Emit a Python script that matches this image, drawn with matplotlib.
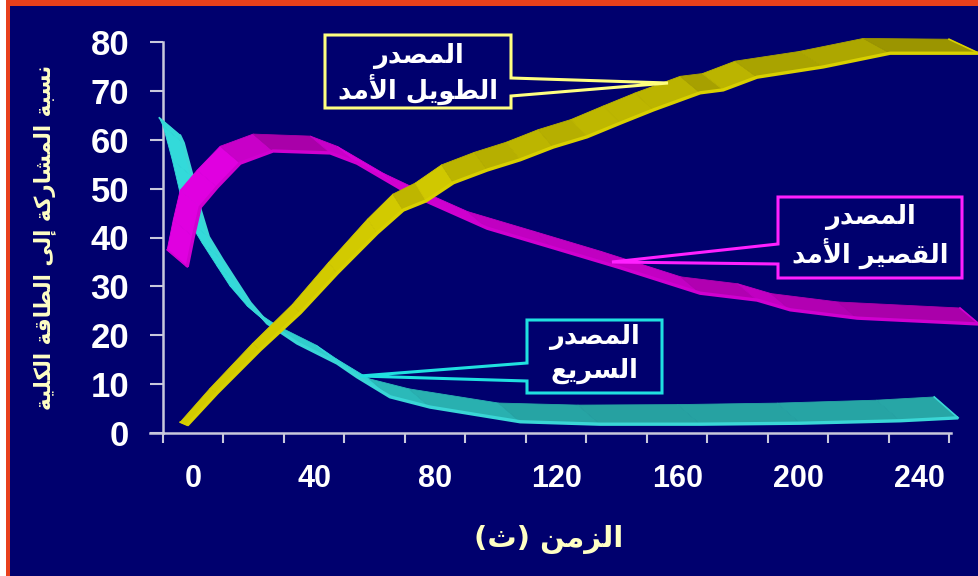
import numpy as np
import matplotlib
matplotlib.use("Agg")
import matplotlib.pyplot as plt
from matplotlib.collections import PolyCollection
from matplotlib.patches import Rectangle, Polygon
from matplotlib.lines import Line2D
import matplotlib.colors as mcolors

# ---------------- data (front edge of each ribbon) ----------------
fast_t = [-4.6, -3.3, -0.3, 2.3, 5.0, 9.6, 14.5, 18.8, 24.5, 34.4, 47.6, 54.2, 65.1,
          78.3, 108.1, 134.5, 167.6, 200.7, 233.7, 252.9]
fast_y = [61.0, 59.3, 52.4, 45.6, 40.1, 35.4, 30.7, 26.6, 22.5, 18.4, 14.3, 11.5, 7.4,
          5.3, 2.3, 1.8, 1.8, 2.0, 2.5, 3.1]

short_t = [-2.0, 0.0, 2.3, 7.9, 15.5, 26.4, 45.3, 54.2, 69.4, 78.3, 97.2, 119.0, 141.2,
           167.6, 186.4, 197.4, 219.5, 259.8]
short_y = [34.0, 40.1, 46.2, 50.3, 55.2, 57.7, 57.3, 55.2, 49.7, 47.1, 41.9, 37.9, 33.8,
           28.6, 27.2, 25.2, 23.5, 22.3]

long_t = [-2.0, 7.9, 22.1, 35.4, 47.6, 60.8, 69.4, 77.0, 86.0, 97.2, 108.1, 119.0, 130.2,
          141.2, 152.1, 167.6, 175.2, 186.4, 208.3, 230.4, 259.8]
long_y = [1.6, 8.2, 17.0, 24.6, 32.7, 40.9, 45.6, 47.5, 51.2, 53.8, 55.9, 58.5, 60.6,
          63.4, 66.1, 69.6, 70.2, 72.8, 74.9, 77.7, 77.7]

x_tick_labels = [0, 40, 80, 120, 160, 200, 240]
y_ticks = [0, 10, 20, 30, 40, 50, 60, 70, 80]

word_source = "المصدر"
label_long = "الطويل الأمد"
label_short = "القصير الأمد"
label_fast = "السريع"
y_title = "نسبة المشاركة إلى الطاقة الكلية"
x_title = "الزمن (ث)"

# ---------------- minimal Arabic shaping (presentation forms + visual order) ----------------
FORMS = {
    '\u0627': ('\uFE8D', '\uFE8E', None, None),
    '\u0623': ('\uFE83', '\uFE84', None, None),
    '\u0625': ('\uFE87', '\uFE88', None, None),
    '\u0622': ('\uFE81', '\uFE82', None, None),
    '\u0628': ('\uFE8F', '\uFE90', '\uFE91', '\uFE92'),
    '\u0629': ('\uFE93', '\uFE94', None, None),
    '\u062A': ('\uFE95', '\uFE96', '\uFE97', '\uFE98'),
    '\u062B': ('\uFE99', '\uFE9A', '\uFE9B', '\uFE9C'),
    '\u062C': ('\uFE9D', '\uFE9E', '\uFE9F', '\uFEA0'),
    '\u062D': ('\uFEA1', '\uFEA2', '\uFEA3', '\uFEA4'),
    '\u062E': ('\uFEA5', '\uFEA6', '\uFEA7', '\uFEA8'),
    '\u062F': ('\uFEA9', '\uFEAA', None, None),
    '\u0630': ('\uFEAB', '\uFEAC', None, None),
    '\u0631': ('\uFEAD', '\uFEAE', None, None),
    '\u0632': ('\uFEAF', '\uFEB0', None, None),
    '\u0633': ('\uFEB1', '\uFEB2', '\uFEB3', '\uFEB4'),
    '\u0634': ('\uFEB5', '\uFEB6', '\uFEB7', '\uFEB8'),
    '\u0635': ('\uFEB9', '\uFEBA', '\uFEBB', '\uFEBC'),
    '\u0636': ('\uFEBD', '\uFEBE', '\uFEBF', '\uFEC0'),
    '\u0637': ('\uFEC1', '\uFEC2', '\uFEC3', '\uFEC4'),
    '\u0638': ('\uFEC5', '\uFEC6', '\uFEC7', '\uFEC8'),
    '\u0639': ('\uFEC9', '\uFECA', '\uFECB', '\uFECC'),
    '\u063A': ('\uFECD', '\uFECE', '\uFECF', '\uFED0'),
    '\u0641': ('\uFED1', '\uFED2', '\uFED3', '\uFED4'),
    '\u0642': ('\uFED5', '\uFED6', '\uFED7', '\uFED8'),
    '\u0643': ('\uFED9', '\uFEDA', '\uFEDB', '\uFEDC'),
    '\u0644': ('\uFEDD', '\uFEDE', '\uFEDF', '\uFEE0'),
    '\u0645': ('\uFEE1', '\uFEE2', '\uFEE3', '\uFEE4'),
    '\u0646': ('\uFEE5', '\uFEE6', '\uFEE7', '\uFEE8'),
    '\u0647': ('\uFEE9', '\uFEEA', '\uFEEB', '\uFEEC'),
    '\u0648': ('\uFEED', '\uFEEE', None, None),
    '\u0649': ('\uFEEF', '\uFEF0', None, None),
    '\u064A': ('\uFEF1', '\uFEF2', '\uFEF3', '\uFEF4'),
}
LAMALEF = {'\u0627': ('\uFEFB', '\uFEFC'), '\u0623': ('\uFEF7', '\uFEF8'),
           '\u0625': ('\uFEF9', '\uFEFA'), '\u0622': ('\uFEF5', '\uFEF6')}


def shape(s):
    res = []
    i = 0
    while i < len(s):
        c = s[i]
        if c not in FORMS:
            res.append(c)
            i += 1
            continue
        prev = s[i - 1] if i > 0 else ''
        pj = prev in FORMS and FORMS[prev][2] is not None
        if c == '\u0644' and i + 1 < len(s) and s[i + 1] in LAMALEF:
            iso, fin = LAMALEF[s[i + 1]]
            res.append(fin if pj else iso)
            i += 2
            continue
        nxt = s[i + 1] if i + 1 < len(s) else ''
        nj = FORMS[c][2] is not None and nxt in FORMS
        iso, fin, ini, med = FORMS[c]
        if pj and nj:
            res.append(med)
        elif pj:
            res.append(fin)
        elif nj:
            res.append(ini)
        else:
            res.append(iso)
        i += 1
    vis = ''.join(res)[::-1]
    return vis.translate(str.maketrans('()', ')('))


# ---------------- figure ----------------
W, H = 979, 576
BG = '#00006e'
AXC = '#c8c8dc'
LABC = '#ffffc4'
fig = plt.figure(figsize=(W / 100, H / 100), dpi=100, facecolor=BG)


def fx(px):
    return px / W


def fy(py):
    return 1 - py / H


# border (white margin + red frame lines)
fig.patches.append(Rectangle((0, 0), fx(6), 1, transform=fig.transFigure, facecolor='white',
                             edgecolor='none', zorder=0))
fig.patches.append(Rectangle((fx(6), 0), fx(4), 1, transform=fig.transFigure, facecolor='#e8401c',
                             edgecolor='none', zorder=0))
fig.patches.append(Rectangle((fx(6), fy(6)), 1, fy(0) - fy(6), transform=fig.transFigure,
                             facecolor='#e8401c', edgecolor='none', zorder=0))

ax_l, ax_r, ax_t, ax_b = 163, 950.6, 42, 433
ax = fig.add_axes([fx(ax_l), fy(ax_b), fx(ax_r - ax_l), fy(ax_t) - fy(ax_b)])
ax.set_facecolor('none')
ax.set_xlim(-10, 250.4)
ax.set_ylim(0, 80)

for side in ['top', 'right']:
    ax.spines[side].set_visible(False)
for side in ['left', 'bottom']:
    ax.spines[side].set_color(AXC)
    ax.spines[side].set_linewidth(1.8)
fig.lines.append(Line2D([fx(150), fx(ax_l)], [fy(ax_b), fy(ax_b)], transform=fig.transFigure,
                        color=AXC, lw=1.8))

ax.set_yticks(y_ticks)
ax.set_yticklabels([str(v) for v in y_ticks], fontsize=25, fontweight='bold', color='white',
                   family=['Liberation Sans', 'DejaVu Sans'])
ax.tick_params(axis='y', direction='out', length=9.4, width=1.5, color=AXC, pad=15)

ax.set_xticks(np.arange(-10, 251, 20))
ax.set_xticklabels([])
ax.set_xticks(x_tick_labels, minor=True)
ax.set_xticklabels([str(v) for v in x_tick_labels], minor=True, fontsize=22, fontweight='bold',
                   color='white', family=['Liberation Sans', 'DejaVu Sans'])
ax.tick_params(axis='x', which='major', direction='out', length=7.5, width=1.5, color=AXC)
ax.tick_params(axis='x', which='minor', length=0, pad=22)


# ---------------- ribbons ----------------
def shade(col, f):
    r, g, b = mcolors.to_rgb(col)
    return (r * f, g * f, b * f)


def ribbon(t, y, depth_ctrl, base, front_col, z):
    """depth_ctrl: (t, dx, dy) in image pixels, front edge -> back edge."""
    t = np.asarray(t, float)
    pts = ax.transData.transform(np.column_stack([t, y]))
    ct = [c[0] for c in depth_ctrl]
    ddx = np.interp(t, ct, [c[1] for c in depth_ctrl])
    ddy = np.interp(t, ct, [c[2] for c in depth_ctrl])
    back = pts + np.column_stack([ddx, -ddy])
    inv = ax.transData.inverted()
    polys, cols = [], []
    for i in range(len(pts) - 1):
        p0, p1 = pts[i], pts[i + 1]
        quad = np.array([p0, p1, back[i + 1], back[i]])
        ang = abs(np.degrees(np.arctan2(p1[1] - p0[1], p1[0] - p0[0])))
        f = 0.74 + 0.26 * min(1.0, ang / 35.0)
        polys.append(inv.transform(quad))
        cols.append(shade(base, f))
    pc = PolyCollection(polys, facecolors=cols, edgecolors=cols, linewidths=0.6, zorder=z,
                        clip_on=False)
    ax.add_collection(pc)
    for k in (0, -1):
        cap = inv.transform(np.array([pts[k], back[k]]))
        ax.plot(cap[:, 0], cap[:, 1], color=front_col, lw=1.2, zorder=z + 0.05, clip_on=False)
    ax.plot(t, y, color=front_col, lw=2.4, zorder=z + 0.1, clip_on=False, solid_capstyle='butt',
            solid_joinstyle='round')


ribbon(fast_t, fast_y, [(-5, -20, -17), (260, -24, -21)], '#33dada', '#3ad6d6', 3)
ribbon(short_t, short_y, [(-2, -20, -17), (260, -19, -16)], '#e000e0', '#d000d0', 4)
ribbon(long_t, long_y, [(-2, -7, -3), (40, -8, -9), (78, -11, -18), (150, -18, -17),
                        (260, -30, -14)], '#d2ca00', '#d8d000', 5)

# ---------------- axis titles ----------------
ar_font = ['DejaVu Sans']
fig.text(fx(45), fy(237), shape(y_title), rotation=90, ha='center', va='center', fontsize=15.5,
         fontweight='bold', color=LABC, family=ar_font)
fig.text(fx(549), fy(540), shape(x_title), ha='center', va='center', fontsize=21,
         fontweight='bold', color=LABC, family=ar_font)


# ---------------- callouts ----------------
def callout(verts, edge, line1, line2, cx, y1, y2):
    v = [(fx(a), fy(b)) for a, b in verts]
    fig.patches.append(Polygon(v, closed=True, transform=fig.transFigure, facecolor=BG,
                               edgecolor=edge, lw=2.2, zorder=10))
    fig.text(fx(cx), fy(y1), shape(line1), ha='center', va='center', fontsize=18.5,
             fontweight='bold', color='white', family=ar_font, zorder=11)
    fig.text(fx(cx), fy(y2), shape(line2), ha='center', va='center', fontsize=18.5,
             fontweight='bold', color='white', family=ar_font, zorder=11)


callout([(325, 35), (511, 35), (511, 78), (668, 83), (511, 96), (511, 108), (325, 108)],
        '#ffff80', word_source, label_long, 418, 56, 89)
callout([(778, 197), (962, 197), (962, 278), (778, 278), (778, 264), (612, 262), (778, 244)],
        '#ff20ff', word_source, label_short, 870, 217, 253)
callout([(527, 320), (662, 320), (662, 393), (527, 393), (527, 381), (360, 376), (527, 363)],
        '#20e0e0', word_source, label_fast, 594, 337, 371)

fig.savefig('out.png', dpi=100, facecolor=BG)
